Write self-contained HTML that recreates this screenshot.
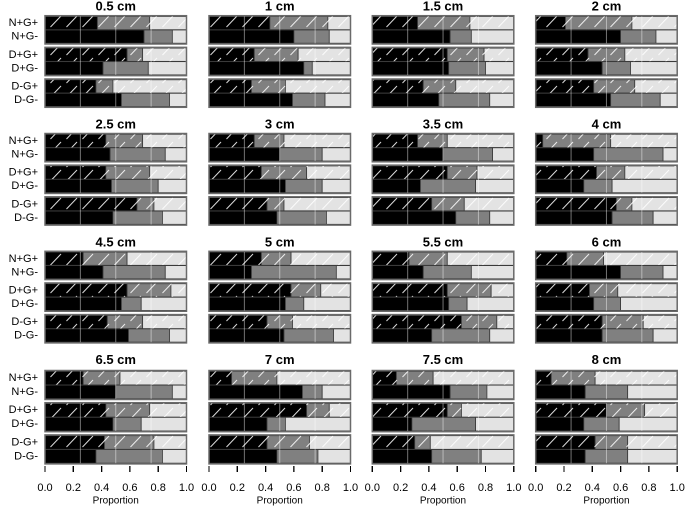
<!DOCTYPE html>
<html><head><meta charset="utf-8"><style>
html,body{margin:0;padding:0;background:#fff;}
svg{display:block;font-family:"Liberation Sans",Arial,sans-serif;}
.t{font-weight:bold;font-size:13px;text-anchor:middle;dominant-baseline:central;}
.l{font-size:11px;text-anchor:end;dominant-baseline:central;}
.k{font-size:11px;text-anchor:middle;dominant-baseline:central;}
.p{font-size:10px;text-anchor:middle;dominant-baseline:central;}
</style></head><body>
<svg id="s" width="685" height="507" viewBox="0 0 685 507" xmlns="http://www.w3.org/2000/svg">
<defs>
<pattern id="h" patternUnits="userSpaceOnUse" width="16" height="14" x="0" y="0">
<line x1="2.5" y1="13" x2="13" y2="2" stroke="#fff" stroke-width="1" opacity="0.85"/>
</pattern>
</defs>
<g id="bars"></g>
<text class="t" x="115.75" y="6.2">0.5 cm</text>
<text class="t" x="279.75" y="6.2">1 cm</text>
<text class="t" x="443" y="6.2">1.5 cm</text>
<text class="t" x="606.5" y="6.2">2 cm</text>
<text class="t" x="115.75" y="124">2.5 cm</text>
<text class="t" x="279.75" y="124">3 cm</text>
<text class="t" x="443" y="124">3.5 cm</text>
<text class="t" x="606.5" y="124">4 cm</text>
<text class="t" x="115.75" y="241.8">4.5 cm</text>
<text class="t" x="279.75" y="241.8">5 cm</text>
<text class="t" x="443" y="241.8">5.5 cm</text>
<text class="t" x="606.5" y="241.8">6 cm</text>
<text class="t" x="115.75" y="359.5">6.5 cm</text>
<text class="t" x="279.75" y="359.5">7 cm</text>
<text class="t" x="443" y="359.5">7.5 cm</text>
<text class="t" x="606.5" y="359.5">8 cm</text>

<text class="l" x="38" y="23.2">N+G+</text><text class="l" x="38" y="36.7">N+G-</text>
<text class="l" x="38" y="54.8">D+G+</text><text class="l" x="38" y="68.3">D+G-</text>
<text class="l" x="38" y="86.5">D-G+</text><text class="l" x="38" y="100">D-G-</text>
<text class="l" x="38" y="141">N+G+</text><text class="l" x="38" y="154.5">N+G-</text>
<text class="l" x="38" y="172.6">D+G+</text><text class="l" x="38" y="186.1">D+G-</text>
<text class="l" x="38" y="204.3">D-G+</text><text class="l" x="38" y="217.8">D-G-</text>
<text class="l" x="38" y="258.8">N+G+</text><text class="l" x="38" y="272.3">N+G-</text>
<text class="l" x="38" y="290.4">D+G+</text><text class="l" x="38" y="303.9">D+G-</text>
<text class="l" x="38" y="322.1">D-G+</text><text class="l" x="38" y="335.6">D-G-</text>
<text class="l" x="38" y="378">N+G+</text><text class="l" x="38" y="392">N+G-</text>
<text class="l" x="38" y="410.2">D+G+</text><text class="l" x="38" y="424.2">D+G-</text>
<text class="l" x="38" y="442.5">D-G+</text><text class="l" x="38" y="456.5">D-G-</text>

<g id="ax"></g>
<text class="k" x="45" y="488">0.0</text><text class="k" x="73.3" y="488">0.2</text><text class="k" x="101.6" y="488">0.4</text><text class="k" x="129.9" y="488">0.6</text><text class="k" x="158.2" y="488">0.8</text><text class="k" x="186.5" y="488">1.0</text>
<text class="k" x="209" y="488">0.0</text><text class="k" x="237.3" y="488">0.2</text><text class="k" x="265.6" y="488">0.4</text><text class="k" x="293.9" y="488">0.6</text><text class="k" x="322.2" y="488">0.8</text><text class="k" x="350.5" y="488">1.0</text>
<text class="k" x="372.3" y="488">0.0</text><text class="k" x="400.6" y="488">0.2</text><text class="k" x="428.9" y="488">0.4</text><text class="k" x="457.2" y="488">0.6</text><text class="k" x="485.5" y="488">0.8</text><text class="k" x="513.8" y="488">1.0</text>
<text class="k" x="535.7" y="488">0.0</text><text class="k" x="564" y="488">0.2</text><text class="k" x="592.3" y="488">0.4</text><text class="k" x="620.6" y="488">0.6</text><text class="k" x="648.9" y="488">0.8</text><text class="k" x="677.2" y="488">1.0</text>
<text class="p" x="115.75" y="501">Proportion</text>
<text class="p" x="279.75" y="501">Proportion</text>
<text class="p" x="443" y="501">Proportion</text>
<text class="p" x="606.5" y="501">Proportion</text>
</svg>
<script>
var D=[
[[.37,.74],[.70,.90],[.58,.69],[.41,.73],[.36,.48],[.54,.88]],
[[.43,.84],[.60,.85],[.32,.63],[.67,.73],[.30,.54],[.59,.82]],
[[.32,.69],[.55,.70],[.53,.79],[.54,.80],[.36,.59],[.47,.83]],
[[.21,.68],[.60,.85],[.37,.63],[.47,.67],[.41,.70],[.53,.88]],
[[.43,.69],[.46,.85],[.43,.74],[.47,.80],[.65,.77],[.48,.83]],
[[.32,.53],[.50,.80],[.37,.69],[.54,.80],[.41,.53],[.48,.83]],
[[.32,.53],[.50,.85],[.53,.74],[.34,.73],[.42,.65],[.59,.83]],
[[.05,.53],[.41,.90],[.43,.63],[.34,.54],[.57,.68],[.54,.83]],
[[.27,.58],[.41,.85],[.58,.89],[.54,.68],[.44,.69],[.59,.88]],
[[.37,.58],[.30,.90],[.58,.79],[.54,.67],[.41,.59],[.53,.88]],
[[.26,.53],[.36,.70],[.53,.84],[.54,.67],[.63,.88],[.42,.83]],
[[.22,.48],[.60,.90],[.38,.58],[.41,.60],[.47,.76],[.47,.83]],
[[.27,.53],[.50,.90],[.43,.74],[.48,.68],[.42,.77],[.36,.83]],
[[.16,.48],[.66,.80],[.69,.85],[.41,.54],[.41,.71],[.48,.77]],
[[.17,.43],[.55,.81],[.53,.63],[.28,.73],[.30,.41],[.42,.77]],
[[.11,.42],[.35,.65],[.50,.77],[.34,.59],[.42,.65],[.35,.65]]];
var cols=[45,209,372.3,535.7],W=141.5,rows=[15.7,133.5,251.3,370.5];
var NS="http://www.w3.org/2000/svg",B=document.getElementById("bars"),A=document.getElementById("ax");
function el(p,t,a){var e=document.createElementNS(NS,t);for(var k in a)e.setAttribute(k,a[k]);p.appendChild(e);return e;}
for(var i=0;i<16;i++){var x0=cols[i%4],r=Math.floor(i/4),rt=rows[r];
 var GH=r==3?29:28.3,gp=r==3?32.2:31.65,bh=r==3?13.6:13.2;
 for(var g=0;g<3;g++){var gt=rt+g*gp;
  for(var b=0;b<2;b++){var d=D[i][g*2+b],y=gt+(b?GH/2+0.15:0.8),h=bh;
   var xs=[0,d[0],d[1],1],cs=["#000","#808080","#e3e3e3"];
   for(var s=0;s<3;s++){el(B,"rect",{x:x0+xs[s]*W,y:y,width:(xs[s+1]-xs[s])*W,height:h,fill:cs[s],stroke:"#3a3a3a","stroke-width":0.8});}
   if(b==0)el(B,"rect",{x:x0,y:y,width:W,height:h,fill:"url(#h)"});
  }
  [0.25,0.5,0.75].forEach(function(v){el(B,"line",{x1:x0+v*W,x2:x0+v*W,y1:gt,y2:gt+GH,stroke:"#fff","stroke-width":1,opacity:0.45});});
  el(B,"rect",{x:x0,y:gt,width:W,height:GH,fill:"none",stroke:"#6a6a6a","stroke-width":1.5});
 }
 [0,.2,.4,.6,.8,1].forEach(function(v){el(A,"line",{x1:x0+v*W,x2:x0+v*W,y1:466,y2:472,stroke:"#000","stroke-width":1});});
}
</script>
</body></html>
